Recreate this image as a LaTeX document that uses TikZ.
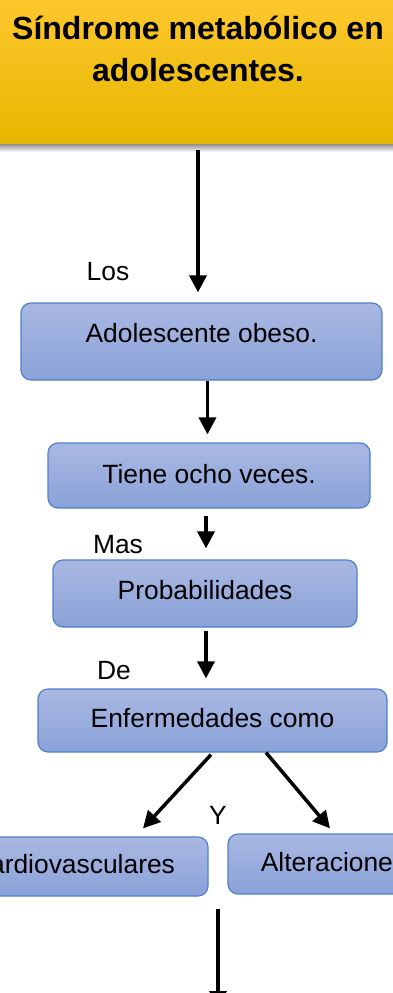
\documentclass[tikz,border=0pt]{standalone}
\usepackage{fontspec}
\setmainfont{Liberation Sans}
\usetikzlibrary{arrows.meta}
\definecolor{ytop}{RGB}{255,200,48}
\definecolor{ybot}{RGB}{230,183,0}
\definecolor{btop}{RGB}{169,184,226}
\definecolor{bbot}{RGB}{138,162,216}
\definecolor{bline}{RGB}{80,128,204}
\tikzset{
  bx/.style={draw=bline, line width=1.2pt, rounded corners=10pt,
    top color=btop, bottom color=bbot, inner sep=0pt,
    text height=19pt, text depth=#1,
    font=\fontsize{26.4}{30}\selectfont},
  lbl/.style={anchor=base, inner sep=0pt, font=\fontsize{26.4}{30}\selectfont},
  arr/.style={line width=3.5pt, -{Triangle[width=17pt,length=17pt]}},
}
\begin{document}
\begin{tikzpicture}[x=1pt,y=-1pt]
\useasboundingbox (0,0) rectangle (393,993);
\clip (0,0) rectangle (393,993);
% shadow under title
\fill[top color=black!55, bottom color=white] (-10,142) rectangle (403,152);
\node[draw=none, top color=ytop, bottom color=ybot, inner sep=0pt,
  minimum width=413pt, minimum height=153pt] (tb) at (196.5,66.5) {};
\node[anchor=base, inner sep=0pt, align=center,
  font=\fontsize{32}{42}\bfseries\selectfont] (tt) at (198,81)
  {Síndrome metabólico en\\adolescentes.};
% boxes
\node[bx=16.6pt, minimum width=361pt, minimum height=77pt] (b1) at (201.5,341.5) {Adolescente obeso.};
\node[bx=4pt, minimum width=322pt, minimum height=65pt] (b2) at (209,475.5) {Tiene ocho veces.};
\node[bx=8pt, minimum width=304pt, minimum height=67pt] (b3) at (205,593.5) {Probabilidades};
\node[bx=6pt, minimum width=349pt, minimum height=63pt] (b4) at (212.5,720.5) {Enfermedades como};
\node[bx=6pt, minimum width=270pt, minimum height=59pt] (b5) at (73,866.5) {Cardiovasculares};
\node[bx=5pt, minimum width=211pt, minimum height=60pt] (b6) at (333.5,864) {Alteraciones};
% labels
\node[lbl] (los) at (108,280) {Los};
\node[lbl] (mas) at (118,553) {Mas};
\node[lbl] (de) at (114,679) {De};
\node[lbl] (y) at (218,824) {Y};
% arrows
\draw[arr] ([xshift=1.5pt,yshift=-7pt]tb.south) -- ([xshift=-3.5pt,yshift=10pt]b1.north);
\draw[arr] ([xshift=6pt]b1.south) -- ([xshift=-1.5pt,yshift=8pt]b2.north);
\draw[arr] ([xshift=-3pt,yshift=-7pt]b2.south) -- ([xshift=1pt,yshift=11pt]b3.north);
\draw[arr] ([xshift=1pt,yshift=-3pt]b3.south) -- ([xshift=-6.5pt,yshift=10pt]b4.north);
\draw[arr] ([xshift=-1.5pt,yshift=-2pt]b4.south) -- ([xshift=70pt,yshift=8pt]b5.north);
\draw[arr] ([xshift=53.5pt]b4.south) -- ([xshift=-3.5pt,yshift=5pt]b6.north);
\coordinate (c1) at (218,909);
\coordinate (c2) at (218,1008);
\draw[arr] (c1) -- (c2);
\end{tikzpicture}
\end{document}
